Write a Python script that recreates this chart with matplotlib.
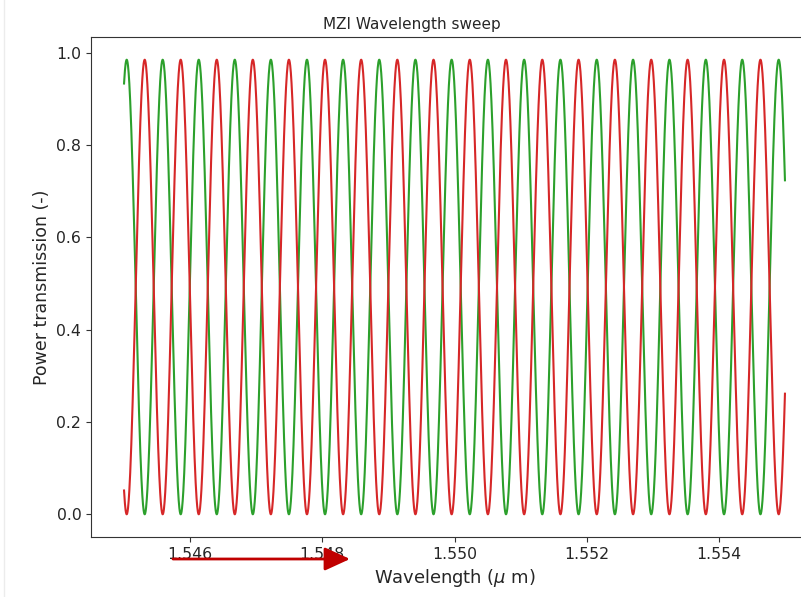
import numpy as np
import matplotlib
matplotlib.use("Agg")
import matplotlib.pyplot as plt
from matplotlib.patches import FancyArrowPatch
from matplotlib.lines import Line2D

# --------------------------------------------------------------------------- #
# Values
# --------------------------------------------------------------------------- #
WL_RANGE_UM = [1.545, 1.555]            # sweep start / stop (um)
GREEN_PEAKS_UM = [1.54504, 1.554905]    # first and last green maximum (um)
N_FRINGES = 18                          # fringe periods between those two peaks
PEAK_T = 0.985                          # maximum power transmission
N_POINTS = 3000                         # sweep resolution

X_TICKS = [1.546, 1.548, 1.550, 1.552, 1.554]
Y_TICKS = [0.0, 0.2, 0.4, 0.6, 0.8, 1.0]

GREEN = "#2ca02c"
RED = "#d62728"
ARROW = "#c00000"
TEXT = "#262626"


def mzi_sweep():
    """Two complementary MZI outputs; OPD follows from the fringe spacing."""
    wl = np.linspace(WL_RANGE_UM[0], WL_RANGE_UM[1], N_POINTS)
    l0, l1 = GREEN_PEAKS_UM
    opd = N_FRINGES / (1.0 / l0 - 1.0 / l1)
    phase = np.pi * opd * (1.0 / wl - 1.0 / l0)
    bar = PEAK_T * np.cos(phase) ** 2
    cross = PEAK_T - bar
    return wl, bar, cross


def main():
    wl, bar, cross = mzi_sweep()

    fig = plt.figure(figsize=(8.01, 5.97), dpi=100)
    # axes runs past the right edge, like the cropped screenshot
    ax = fig.add_axes([91 / 801, 60 / 597, 727 / 801, 500 / 597])

    ax.plot(wl, bar, color=GREEN, lw=1.5)
    ax.plot(wl, cross, color=RED, lw=1.5)

    ax.set_xticks(X_TICKS)
    ax.set_yticks(Y_TICKS)
    ax.ticklabel_format(useOffset=False)
    ax.tick_params(labelsize=11.3, labelcolor=TEXT, color="#333333")
    for s in ax.spines.values():
        s.set_color("#333333")
    ax.set_xlabel(r"Wavelength ($\mu$ m)", fontsize=12.9, color=TEXT)
    ax.set_ylabel("Power transmission (-)", fontsize=12.5, color=TEXT)
    ax.set_title("MZI Wavelength sweep", fontsize=11, x=0.4415, color=TEXT)

    # faint screenshot border on the left
    fig.add_artist(Line2D([4 / 801, 4 / 801], [0, 1], color="#ececec",
                          lw=1, transform=fig.transFigure))

    # hand-drawn red arrow under the x axis
    y = 1 - 559 / 597
    fig.add_artist(FancyArrowPatch((173 / 801, y), (350 / 801, y),
                                   transform=fig.transFigure,
                                   arrowstyle="-|>,head_length=1.2,head_width=0.55",
                                   mutation_scale=13, color=ARROW, lw=2,
                                   shrinkA=0, shrinkB=0))

    fig.savefig("out.png", dpi=100)


if __name__ == "__main__":
    main()
